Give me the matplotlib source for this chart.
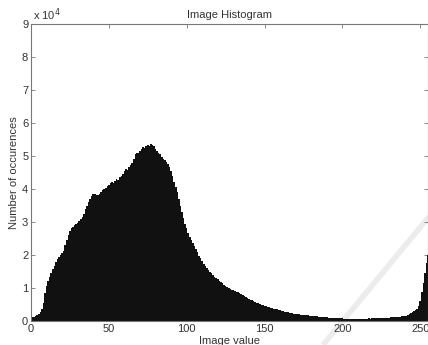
import numpy as np
import matplotlib
matplotlib.use("Agg")
import matplotlib.pyplot as plt
from matplotlib.lines import Line2D

plt.rcParams["font.family"] = ["Liberation Sans", "DejaVu Sans"]

# bin edges for pixel values 0..255
bin_edges = np.arange(257) - 0.5

# occurrences, in units of 10^4
counts_e4 = [
    0.45, 0.12, 0.13, 0.15, 0.18, 0.22, 0.27, 0.35, 0.55, 0.85,
    1.05, 1.20, 1.33, 1.45, 1.58, 1.68, 1.78, 1.87, 1.95, 2.00,
    2.05, 2.12, 2.30, 2.45, 2.60, 2.72, 2.82, 2.86, 2.90, 2.93,
    2.97, 3.02, 3.08, 3.15, 3.25, 3.38, 3.50, 3.60, 3.70, 3.78,
    3.84, 3.86, 3.83, 3.82, 3.86, 3.92, 3.96, 4.00, 4.03, 4.08,
    4.12, 4.18, 4.22, 4.18, 4.25, 4.30, 4.28, 4.36, 4.40, 4.46,
    4.55, 4.60, 4.58, 4.66, 4.72, 4.80, 4.92, 5.05, 5.10, 5.08,
    5.15, 5.22, 5.28, 5.25, 5.30, 5.33, 5.30, 5.35, 5.33, 5.30,
    5.22, 5.15, 5.10, 5.05, 4.98, 4.92, 4.88, 4.82, 4.75, 4.68,
    4.55, 4.40, 4.22, 4.05, 3.90, 3.70, 3.50, 3.30, 3.12, 2.95,
    2.82, 2.68, 2.56, 2.46, 2.36, 2.28, 2.18, 2.08, 1.98, 1.90,
    1.82, 1.74, 1.68, 1.62, 1.56, 1.50, 1.44, 1.38, 1.34, 1.30,
    1.26, 1.22, 1.18, 1.14, 1.10, 1.07, 1.04, 1.01, 0.98, 0.95,
    0.93, 0.91, 0.89, 0.87, 0.85, 0.82, 0.79, 0.76, 0.73, 0.70,
    0.67, 0.65, 0.63, 0.61, 0.59, 0.56, 0.54, 0.52, 0.50, 0.48,
    0.46, 0.44, 0.43, 0.41, 0.40, 0.38, 0.37, 0.36, 0.35, 0.33,
    0.32, 0.31, 0.30, 0.28, 0.27, 0.26, 0.25, 0.24, 0.23, 0.22,
    0.21, 0.21, 0.20, 0.19, 0.19, 0.18, 0.18, 0.17, 0.17, 0.16,
    0.16, 0.15, 0.15, 0.14, 0.14, 0.13, 0.13, 0.12, 0.12, 0.11,
    0.11, 0.10, 0.10, 0.10, 0.09, 0.09, 0.09, 0.08, 0.08, 0.08,
    0.08, 0.07, 0.07, 0.07, 0.07, 0.07, 0.07, 0.06, 0.07, 0.06,
    0.06, 0.07, 0.06, 0.07, 0.07, 0.07, 0.07, 0.08, 0.07, 0.08,
    0.08, 0.08, 0.08, 0.09, 0.09, 0.09, 0.09, 0.10, 0.10, 0.10,
    0.10, 0.11, 0.11, 0.12, 0.12, 0.12, 0.13, 0.13, 0.14, 0.15,
    0.14, 0.15, 0.17, 0.21, 0.24, 0.27, 0.30, 0.33, 0.37, 0.46,
    0.62, 0.88, 1.15, 1.45, 1.75, 2.00,
]

x_ticks = [0, 50, 100, 150, 200, 250]
y_ticks = [0, 1, 2, 3, 4, 5, 6, 7, 8, 9]

text_col = "#333333"
axis_col = "#777777"

fig = plt.figure(figsize=(4.28, 3.45), dpi=100)
ax = fig.add_axes([31 / 428, 24 / 345, 397 / 428, 297 / 345])

# faint diagonal watermark stripe behind the plot
fig.add_artist(Line2D([323 / 428, 432 / 428], [0.0, 1 - 213 / 345],
                      transform=fig.transFigure, color="#ececec",
                      linewidth=4, solid_capstyle="butt", zorder=0))
ax.patch.set_alpha(0)

# histogram drawn as one filled step polygon
ax.stairs(counts_e4, bin_edges, fill=True, color="#111111",
          linewidth=0, antialiased=False, zorder=2)

ax.set_xlim(0, 255)
ax.set_ylim(0, 9)
ax.set_xticks(x_ticks)
ax.set_yticks(y_ticks)

ax.tick_params(direction="in", length=3, width=0.6, colors=axis_col,
               labelcolor=text_col, labelsize=8, top=True, right=True,
               pad=2)
for s in ax.spines.values():
    s.set_color(axis_col)
    s.set_linewidth(0.8)

ax.set_title("Image Histogram", fontsize=8, color=text_col, pad=4)
ax.set_xlabel("Image value", fontsize=8, color=text_col)
ax.xaxis.set_label_coords(0.5, -0.052)
ax.set_ylabel("Number of occurences", fontsize=8, color=text_col,
              labelpad=2)
ax.text(0.005, 1.005, "x 10$^4$", transform=ax.transAxes, fontsize=8,
        color=text_col, ha="left", va="bottom")

fig.savefig("out.png", dpi=100)
